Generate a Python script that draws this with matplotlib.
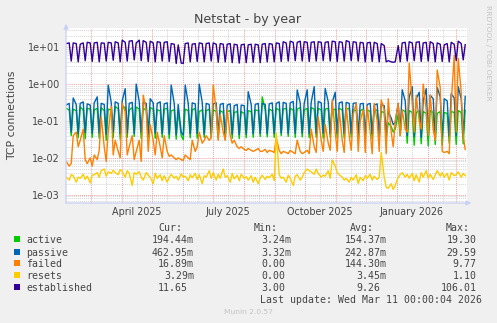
import numpy as np
import pandas as pd
import matplotlib
matplotlib.use("Agg")
from matplotlib import pyplot as plt
from matplotlib.patches import Rectangle
from matplotlib.ticker import FixedLocator, NullLocator

# Daily netstat averages, sampled three times a week (tue, fri, sun)
week_start = pd.date_range("2025-02-03", periods=58, freq="7D")
day_offsets = [1, 4, 6]

established = [
    12.5, 13.0, 4.2, 13.0, 12.5, 4.0, 12.0, 13.0, 4.3, 13.5, 13.0, 4.1,
    13.0, 13.5, 4.0, 13.0, 12.8, 4.2, 13.5, 13.0, 4.4, 14.0, 13.0, 4.0,
    15.5, 13.5, 4.2, 14.5, 15.0, 4.5, 13.0, 15.5, 4.3, 15.0, 13.5, 4.1,
    14.5, 13.0, 4.0, 14.0, 13.5, 4.2, 13.5, 14.0, 4.1, 12.5, 12.0, 3.6,
    11.5, 3.7, 3.6, 12.5, 13.0, 4.0, 12.0, 12.5, 4.1, 13.0, 12.5, 4.0,
    12.5, 13.0, 4.2, 13.0, 12.0, 3.9, 12.5, 12.0, 4.0, 12.0, 12.5, 3.8,
    12.0, 11.5, 3.7, 11.5, 12.0, 3.8, 11.5, 12.0, 3.9, 12.0, 11.5, 3.8,
    12.0, 12.5, 4.0, 12.5, 12.0, 4.0, 13.0, 12.5, 4.1, 14.0, 13.0, 4.2,
    14.5, 13.5, 4.3, 13.5, 14.5, 4.2, 14.0, 13.5, 4.1, 13.5, 14.0, 4.2,
    14.0, 13.5, 4.3, 13.5, 14.0, 4.2, 14.5, 14.0, 4.1, 14.0, 13.5, 4.2,
    15.0, 14.0, 4.3, 14.0, 13.5, 4.2, 13.5, 13.0, 4.0, 13.0, 13.5, 4.1,
    13.5, 12.5, 4.0, 12.5, 11.0, 4.0, 4.3, 4.0, 3.9, 4.0, 11.0, 4.0,
    13.0, 13.5, 4.2, 14.0, 13.0, 4.3, 13.5, 14.0, 4.1, 13.0, 13.5, 4.2,
    14.0, 12.5, 4.0, 13.0, 12.0, 4.1, 11.5, 12.5, 4.0, 13.5, 12.0, 4.3,
    14.5, 12.5, 4.5, 11.65, 12.0, 4.2,
]

active = [
    0.22, 0.20, 0.040, 0.21, 0.19, 0.035, 0.24, 0.20, 0.033, 0.22, 0.21, 0.036,
    0.20, 0.22, 0.034, 0.23, 0.19, 0.030, 0.21, 0.20, 0.035, 0.25, 0.21, 0.032,
    0.22, 0.24, 0.036, 0.20, 0.23, 0.038, 0.24, 0.21, 0.033, 0.22, 0.20, 0.035,
    0.23, 0.21, 0.034, 0.20, 0.19, 0.036, 0.21, 0.22, 0.033, 0.19, 0.20, 0.032,
    0.18, 0.040, 0.031, 0.21, 0.19, 0.035, 0.20, 0.22, 0.034, 0.18, 0.20, 0.036,
    0.19, 0.21, 0.035, 0.20, 0.18, 0.033, 0.19, 0.17, 0.032, 0.18, 0.19, 0.034,
    0.17, 0.18, 0.033, 0.18, 0.16, 0.035, 0.19, 0.18, 0.036, 0.20, 0.19, 0.038,
    0.45, 0.20, 0.037, 0.21, 0.19, 0.036, 0.22, 0.20, 0.040, 0.21, 0.22, 0.038,
    0.22, 0.20, 0.036, 0.21, 0.23, 0.037, 0.20, 0.22, 0.035, 0.23, 0.21, 0.036,
    0.22, 0.20, 0.034, 0.21, 0.22, 0.036, 0.20, 0.21, 0.035, 0.22, 0.20, 0.034,
    0.21, 0.22, 0.036, 0.20, 0.19, 0.033, 0.19, 0.21, 0.034, 0.20, 0.18, 0.032,
    0.19, 0.20, 0.033, 0.18, 0.17, 0.034, 0.09, 0.07, 0.050, 0.06, 0.15, 0.040,
    0.20, 0.18, 0.025, 0.19, 0.17, 0.022, 0.17, 0.19, 0.024, 0.18, 0.16, 0.021,
    0.19, 0.17, 0.023, 0.16, 0.18, 0.022, 0.17, 0.16, 0.025, 0.18, 0.17, 0.023,
    0.19, 0.17, 0.024, 0.19444, 0.18, 0.025,
]

passive = [
    0.27, 0.30, 0.050, 0.42, 0.28, 0.045, 0.30, 0.33, 0.048, 0.29, 0.27, 0.046,
    0.31, 0.45, 0.047, 0.30, 0.28, 0.044, 0.94, 0.32, 0.050, 0.33, 0.30, 0.045,
    0.35, 0.75, 0.048, 0.30, 0.32, 0.046, 1.00, 0.34, 0.050, 0.32, 0.30, 0.045,
    0.40, 0.31, 0.047, 0.30, 0.33, 0.046, 0.29, 0.31, 0.044, 0.94, 0.30, 0.042,
    0.28, 0.050, 0.041, 0.94, 0.30, 0.045, 0.31, 0.29, 0.046, 1.00, 0.32, 0.044,
    0.30, 0.28, 0.045, 0.29, 0.31, 0.043, 0.28, 0.30, 0.042, 0.27, 0.29, 0.044,
    0.26, 0.28, 0.043, 0.27, 0.26, 0.044, 0.62, 0.28, 0.045, 0.28, 0.30, 0.046,
    0.30, 0.28, 0.045, 0.29, 0.31, 0.046, 0.30, 0.33, 0.047, 0.32, 0.30, 0.045,
    0.31, 0.34, 0.046, 0.69, 0.31, 0.047, 0.30, 0.70, 0.045, 0.32, 0.85, 0.046,
    0.34, 0.31, 0.047, 0.76, 0.33, 0.045, 0.32, 0.60, 0.046, 0.31, 0.33, 0.045,
    0.32, 0.30, 0.046, 0.30, 0.31, 0.044, 0.29, 0.30, 0.045, 0.28, 0.30, 0.044,
    0.27, 0.29, 0.043, 0.28, 0.26, 0.045, 0.18, 0.12, 0.080, 0.09, 0.30, 0.050,
    0.70, 0.35, 0.040, 0.45, 0.85, 0.038, 0.40, 0.60, 0.036, 0.35, 0.75, 0.040,
    0.50, 0.40, 0.038, 0.80, 0.45, 0.037, 0.40, 0.35, 0.039, 0.55, 0.42, 0.040,
    0.85, 0.40, 0.042, 0.46295, 0.45, 0.045,
]

failed = [
    0.008, 0.006, 0.007, 0.04, 0.05, 0.02, 0.03, 0.06, 0.009, 0.007, 0.01, 0.006,
    0.012, 0.009, 0.016, 0.13, 0.02, 0.008, 0.05, 0.25, 0.012, 0.03, 0.015, 0.01,
    0.3, 0.18, 0.012, 0.02, 0.04, 0.009, 0.015, 0.03, 0.008, 0.5, 0.2, 0.015,
    0.08, 0.03, 0.012, 0.05, 0.02, 0.01, 0.04, 0.015, 0.011, 0.012, 0.01, 0.009,
    0.01, 0.009, 0.0085, 0.012, 0.01, 0.009, 0.03, 0.015, 0.02, 0.05, 0.025, 0.03,
    0.04, 0.03, 0.035, 0.94, 0.2, 0.03, 0.15, 0.05, 0.03, 0.2, 0.04, 0.025,
    0.03, 0.02, 0.018, 0.02, 0.017, 0.016, 0.018, 0.016, 0.015, 0.016, 0.018, 0.015,
    0.015, 0.017, 0.014, 0.016, 0.015, 0.014, 0.035, 0.016, 0.013, 0.015, 0.014, 0.013,
    0.016, 0.014, 0.013, 0.03, 0.015, 0.013, 0.014, 0.016, 0.013, 0.06, 0.02, 0.014,
    0.13, 0.03, 0.015, 0.08, 0.025, 0.016, 0.37, 0.05, 0.015, 0.2, 0.03, 0.014,
    0.25, 0.04, 0.016, 0.15, 0.3, 0.015, 0.1, 0.2, 0.014, 0.25, 0.05, 0.013,
    0.3, 0.1, 0.015, 0.37, 0.2, 0.013, 0.4, 0.05, 0.02, 0.1, 0.3, 0.04,
    0.2, 0.06, 0.05, 3.7, 0.3, 0.05, 0.5, 0.1, 0.06, 1.0, 0.2, 0.04,
    0.5, 0.06, 0.03, 2.4, 0.8, 0.015, 0.014, 0.015, 0.013, 0.3, 6.0, 0.05,
    5.0, 0.6, 0.04, 0.01689, 0.02, 0.02,
]

resets = [
    0.0030, 0.0025, 0.0035, 0.0033, 0.0022, 0.0030, 0.0028, 0.0036, 0.0026, 0.0032, 0.0021, 0.0034,
    0.0035, 0.0040, 0.0030, 0.0045, 0.0050, 0.0032, 0.0042, 0.0038, 0.0046, 0.0040, 0.0035, 0.0048,
    0.0043, 0.0030, 0.0045, 0.0038, 0.0018, 0.0040, 0.0036, 0.0042, 0.0030, 0.0025, 0.0040, 0.0034,
    0.0030, 0.0020, 0.0038, 0.0028, 0.0035, 0.0024, 0.0033, 0.0022, 0.0030, 0.0036, 0.0028, 0.0032,
    0.0025, 0.0037, 0.0030, 0.0032, 0.0024, 0.0035, 0.0029, 0.0038, 0.0026, 0.0035, 0.0020, 0.0033,
    0.0030, 0.0045, 0.0028, 0.0040, 0.0025, 0.0036, 0.0028, 0.0050, 0.0030, 0.0033, 0.0022, 0.0038,
    0.0027, 0.0034, 0.0024, 0.0036, 0.0028, 0.0031, 0.0025, 0.0033, 0.0022, 0.0030, 0.0020, 0.0028,
    0.0034, 0.0026, 0.0032, 0.0029, 0.0036, 0.0024, 0.047, 0.0035, 0.0028, 0.0030, 0.0022, 0.0034,
    0.0028, 0.0018, 0.0032, 0.0035, 0.0025, 0.0030, 0.0040, 0.0050, 0.0045, 0.0042, 0.0036, 0.0050,
    0.0038, 0.0030, 0.0034, 0.0032, 0.0045, 0.0028, 0.0088, 0.0060, 0.0040, 0.0035, 0.0030, 0.0025,
    0.0028, 0.0022, 0.0030, 0.0025, 0.0035, 0.0020, 0.0030, 0.0024, 0.0033, 0.0028, 0.0036, 0.0025,
    0.0032, 0.0026, 0.0030, 0.014, 0.0030, 0.0016, 0.0015, 0.0020, 0.0014, 0.0018, 0.0030, 0.0035,
    0.0040, 0.0030, 0.0036, 0.0028, 0.0038, 0.0024, 0.0035, 0.0022, 0.0040, 0.0030, 0.0045, 0.0028,
    0.0036, 0.0026, 0.0034, 0.0045, 0.0032, 0.0040, 0.0030, 0.0038, 0.0025, 0.0040, 0.0033, 0.0035,
    0.0042, 0.0030, 0.0038, 0.00329, 0.0030, 0.0030,
]

labels = ["active", "passive", "failed", "resets", "established"]
colors = ["#00CC00", "#0066B3", "#FF8000", "#FFCC00", "#330099"]
cur = ["194.44m", "462.95m", "16.89m", "3.29m", "11.65"]
mins = ["3.24m", "3.32m", "0.00", "0.00", "3.00"]
avgs = ["154.37m", "242.87m", "144.30m", "3.45m", "9.26"]
maxs = ["19.30", "29.59", "9.77", "1.10", "106.01"]

last_update = pd.Timestamp("2026-03-11 00:00:04")
month_labels = ["April 2025", "July 2025", "October 2025", "January 2026"]
month_label_dates = ["2025-04-16", "2025-07-16", "2025-10-16", "2026-01-16"]

W, H = 497, 323
TXT = "#444444"
AXIS = "#C8D0F4"
MGRID = "#F4A0A0"
GRID = "#D4D4D4"


def fx(x):
    return x / W


def fy(y):
    return 1 - y / H


def main():
    times = pd.DatetimeIndex([d + pd.Timedelta(days=o, hours=12)
                              for d in week_start for o in day_offsets])
    keep = times <= last_update

    fig = plt.figure(figsize=(W / 100, H / 100), dpi=100, facecolor="#F0F0F0")
    ax = fig.add_axes([fx(66), fy(203), fx(467) - fx(66), fy(28) - fy(203)])
    ax.set_facecolor("white")
    ax.set_yscale("log")
    x0 = pd.Timestamp("2025-02-04 07:00")
    x1 = pd.Timestamp("2026-03-12 07:00")
    ax.set_xlim(x0, x1)
    ax.set_ylim(6.0e-4, 33)

    # grid: decades and month starts in red, the rest in grey
    dot = (0, (1, 1))
    for k in range(-4, 2):
        for m in range(2, 10):
            ax.axhline(m * 10.0 ** k, color=GRID, lw=0.7, ls=dot, zorder=0)
        ax.axhline(10.0 ** k, color=MGRID, lw=0.7, ls=dot, zorder=0.5)
    for d in pd.date_range("2025-02-16", "2026-03-16", freq="MS") + pd.Timedelta(days=15):
        ax.axvline(d, color=GRID, lw=0.7, ls=dot, zorder=0)
    for d in pd.date_range("2025-02-01", "2026-03-01", freq="MS"):
        ax.axvline(d, color=MGRID, lw=0.7, ls=dot, zorder=0.5)

    series = [active, passive, failed, resets, established]
    for vals, c in zip(series, colors):
        v = np.array(vals)
        ax.plot(times[keep], v[keep], color=c, lw=1.0, zorder=2)

    for s in ax.spines.values():
        s.set_visible(False)

    ax.yaxis.set_major_locator(FixedLocator([1e-3, 1e-2, 1e-1, 1e0, 1e1]))
    ax.yaxis.set_minor_locator(NullLocator())
    ax.set_yticklabels(["1e-03", "1e-02", "1e-01", "1e+00", "1e+01"])
    ax.set_xticks(pd.to_datetime(month_label_dates))
    ax.set_xticklabels(month_labels)
    ax.xaxis.set_minor_locator(NullLocator())
    ax.tick_params(axis="both", length=0, labelsize=6.9, colors=TXT)
    ax.tick_params(axis="y", pad=4.3)
    ax.tick_params(axis="x", pad=3.2)

    # axis lines with arrow heads
    ax.annotate("", xy=(fx(66), fy(21)), xytext=(fx(66), fy(206)),
                xycoords="figure fraction",
                arrowprops=dict(arrowstyle="-|>", color=AXIS, lw=0.9,
                                mutation_scale=7))
    ax.annotate("", xy=(fx(474), fy(203)), xytext=(fx(63), fy(203)),
                xycoords="figure fraction",
                arrowprops=dict(arrowstyle="-|>", color=AXIS, lw=0.9,
                                mutation_scale=7))

    fig.text(fx(248), fy(19), "Netstat - by year", ha="center", va="center",
             fontsize=9.1, color=TXT)
    fig.text(fx(12), fy(115), "TCP connections", rotation=90, ha="center",
             va="center", fontsize=7.8, color=TXT)
    fig.text(fx(488), fy(53), "RRDTOOL / TOBI OETIKER", rotation=-90,
             ha="center", va="center", fontsize=5.4, color="#C4C4C4")

    # legend table
    mono = dict(family="DejaVu Sans Mono", fontsize=7.1, color=TXT,
                va="center_baseline")
    step = 5.95
    for txt, xr in zip(["Cur:", "Min:", "Avg:", "Max:"], [182, 278, 374, 470]):
        fig.text(fx(xr), fy(227.3), txt, ha="right", **mono)
    rows = [239.3, 251.7, 263.3, 275.3, 287.3]
    for i, y in enumerate(rows):
        fig.patches.append(Rectangle((fx(14), fy(y + 3)), fx(6), 6 / H,
                                     transform=fig.transFigure,
                                     facecolor=colors[i], edgecolor="none"))
        fig.text(fx(26.3), fy(y), labels[i], ha="left", **mono)
        for val, xr in zip([cur[i], mins[i], avgs[i]], [194, 291, 386.7]):
            if not val.endswith("m"):
                xr -= step
            fig.text(fx(xr), fy(y), val, ha="right", **mono)
        fig.text(fx(476.7), fy(y), maxs[i], ha="right", **mono)

    fig.text(fx(482), fy(299.3), "Last update: Wed Mar 11 00:00:04 2026",
             ha="right", **mono)
    fig.text(fx(248), fy(311.7), "Munin 2.0.57", ha="center", va="center",
             fontsize=5.4, color="#C4C4C4")

    fig.savefig("out.png", dpi=100, facecolor=fig.get_facecolor())


if __name__ == "__main__":
    main()
